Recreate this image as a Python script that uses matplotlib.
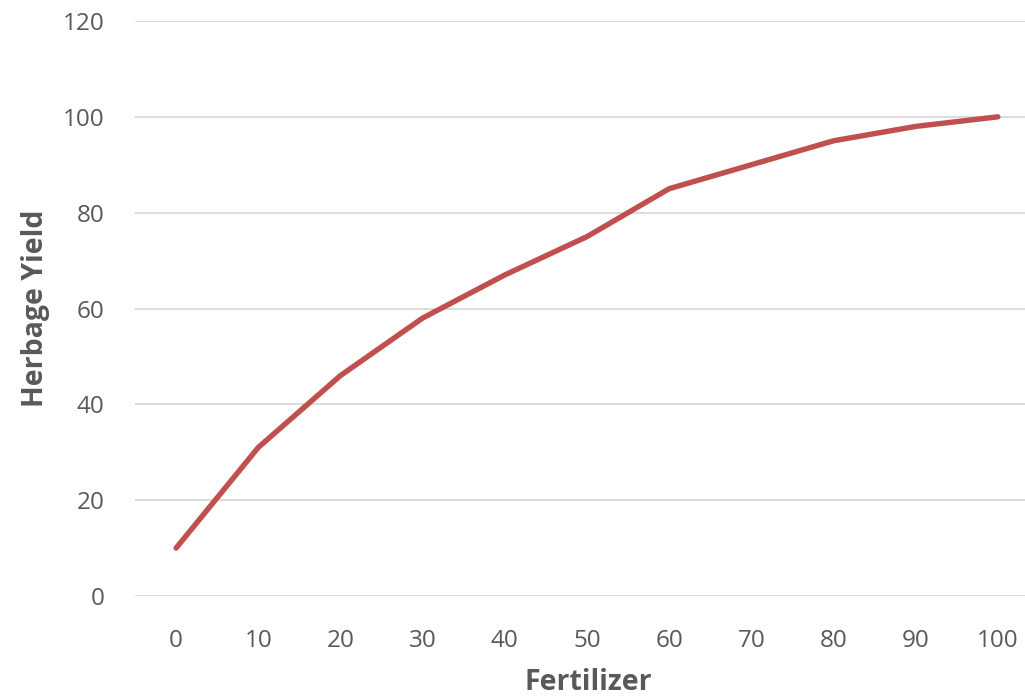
import numpy as np
import matplotlib.pyplot as plt

# Data
fertilizer = [0, 10, 20, 30, 40, 50, 60, 70, 80, 90, 100]
herbage_yield = [10, 31, 46, 58, 67, 75, 85, 90, 95, 98, 100]
y_ticks = [0, 20, 40, 60, 80, 100, 120]

plt.rcParams['font.family'] = ['Open Sans', 'DejaVu Sans']

fig = plt.figure(figsize=(10.25, 6.98), dpi=100)
ax = fig.add_axes([135/1025, 102/698, 890/1025, 575/698])

ax.plot(fertilizer, herbage_yield, color="#C0504D", lw=3.9, solid_capstyle="round", solid_joinstyle="round", zorder=3)

ax.set_xlim(-5, 103.3)
ax.set_ylim(0, 120)
ax.set_xticks(fertilizer)
ax.set_yticks(y_ticks)
ax.grid(axis="y", color="#D9D9D9", lw=1.3)
ax.set_axisbelow(True)
for s in ax.spines.values():
    s.set_visible(False)
ax.tick_params(axis="both", length=0, labelsize=17.5, labelcolor="#595959")
ax.tick_params(axis="x", pad=24)
ax.tick_params(axis="y", pad=22)

# axis titles placed by figure fraction so they sit where the reference has them
fig.text(588/1025, 1 - 683/698, "Fertilizer", fontsize=20.5, fontweight="bold", color="#595959", ha="center", va="center")
fig.text(36/1025, 1 - 308/698, "Herbage Yield", fontsize=20.5, fontweight="bold", color="#595959", ha="center", va="center", rotation=90)

fig.savefig("out.png", dpi=100)
